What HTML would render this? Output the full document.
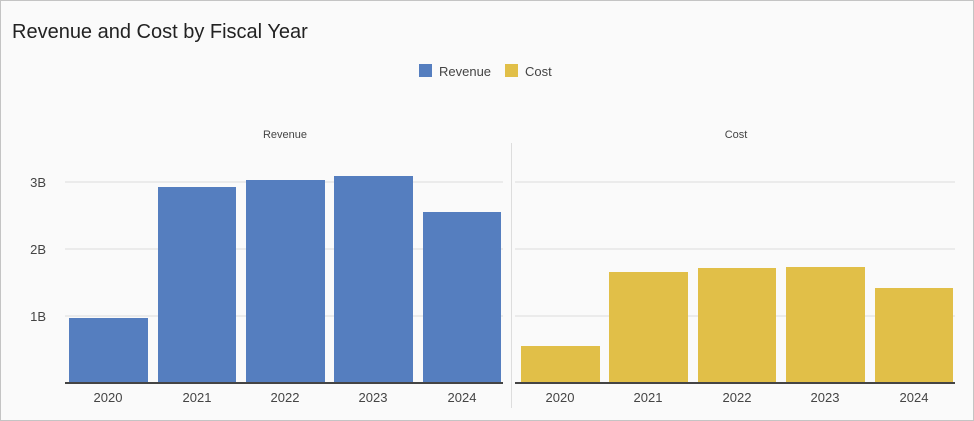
<!DOCTYPE html>
<html><head><style>
html,body{margin:0;padding:0;background:#fff}
svg{display:block;font-family:"Liberation Sans",sans-serif}
</style></head><body>
<svg width="974" height="421" xmlns="http://www.w3.org/2000/svg">
<rect x="0.5" y="0.5" width="973" height="420" fill="#fafafa" stroke="#c4c4c4"/>
<text x="12" y="38" font-size="20" fill="#222">Revenue and Cost by Fiscal Year</text>
<rect x="419" y="64" width="13" height="13" fill="#557ebf"/>
<text x="439" y="76" font-size="13" fill="#444">Revenue</text>
<rect x="505" y="64" width="13" height="13" fill="#e1bf48"/>
<text x="525" y="76" font-size="13" fill="#444">Cost</text>
<text x="285" y="138" font-size="11" fill="#444" text-anchor="middle">Revenue</text>
<text x="736" y="138" font-size="11" fill="#444" text-anchor="middle">Cost</text>
<line x1="511.5" y1="143" x2="511.5" y2="408" stroke="#ddd"/>
<g stroke="#e6e6e6" stroke-width="1.5">
<line x1="65" y1="182" x2="503" y2="182"/><line x1="65" y1="249" x2="503" y2="249"/><line x1="65" y1="316" x2="503" y2="316"/>
<line x1="515" y1="182" x2="955" y2="182"/><line x1="515" y1="249" x2="955" y2="249"/><line x1="515" y1="316" x2="955" y2="316"/>
</g>
<g font-size="13" fill="#444" text-anchor="end">
<text x="46" y="187">3B</text><text x="46" y="254">2B</text><text x="46" y="321">1B</text>
</g>
<g fill="#557ebf">
<rect x="69" y="318" width="79" height="65"/>
<rect x="158" y="187" width="78" height="196"/>
<rect x="246" y="180" width="79" height="203"/>
<rect x="334" y="176" width="79" height="207"/>
<rect x="423" y="212" width="78" height="171"/>
</g>
<g fill="#e1bf48">
<rect x="521" y="346" width="79" height="37"/>
<rect x="609" y="272" width="79" height="111"/>
<rect x="698" y="268" width="78" height="115"/>
<rect x="786" y="267" width="79" height="116"/>
<rect x="875" y="288" width="78" height="95"/>
</g>
<g stroke="#444" stroke-width="2">
<line x1="65" y1="383" x2="503" y2="383"/><line x1="515" y1="383" x2="955" y2="383"/>
</g>
<g font-size="13" fill="#444" text-anchor="middle">
<text x="108" y="402">2020</text><text x="197" y="402">2021</text><text x="285" y="402">2022</text><text x="373" y="402">2023</text><text x="462" y="402">2024</text>
<text x="560" y="402">2020</text><text x="648" y="402">2021</text><text x="737" y="402">2022</text><text x="825" y="402">2023</text><text x="914" y="402">2024</text>
</g>
</svg>
</body></html>
